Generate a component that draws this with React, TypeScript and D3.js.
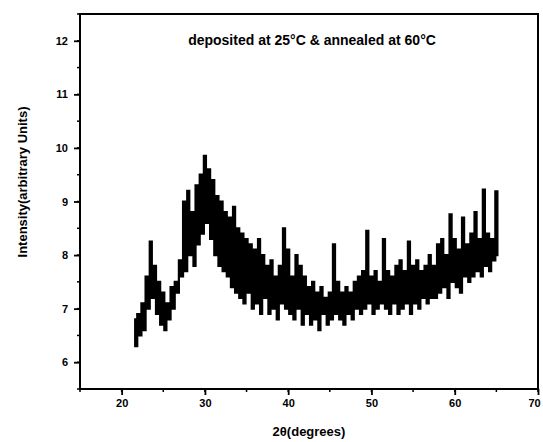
import React, { useRef, useEffect } from 'react';
import * as d3 from 'd3';

// scan start / step (degrees 2theta)
const twoThetaStart = 21.5;
const twoThetaStep = 0.25;

// intensity, one value per step
const intensity = [
  6.8, 6.3, 6.9, 6.5, 7.1, 6.6, 7.6, 7.0, 8.25, 7.2, 7.8, 6.9, 7.5, 6.7, 7.3, 6.6,
  7.1, 6.8, 7.4, 7.0, 7.5, 7.3, 7.9, 7.6, 9.0, 7.7, 9.2, 8.0, 8.8, 7.8, 9.3, 8.2,
  9.5, 8.4, 9.85, 8.6, 9.6, 8.3, 9.4, 8.0, 9.1, 7.8, 9.0, 7.7, 8.8, 7.6, 8.7, 7.4,
  8.9, 7.3, 8.5, 7.2, 8.4, 7.1, 8.3, 7.3, 8.2, 7.0, 8.1, 7.1, 8.3, 6.9, 8.0, 7.2,
  7.8, 6.9, 7.9, 7.0, 7.6, 6.8, 7.8, 7.1, 8.5, 7.0, 8.1, 6.9, 7.6, 6.8, 8.0, 7.0,
  7.8, 6.7, 7.6, 6.9, 7.4, 6.7, 7.5, 6.8, 7.3, 6.6, 7.4, 6.9, 7.2, 6.7, 7.3, 6.8,
  8.2, 6.9, 7.5, 6.8, 7.3, 6.7, 7.4, 6.9, 7.3, 6.8, 7.5, 7.0, 7.6, 6.9, 7.7, 7.0,
  8.45, 7.1, 7.6, 6.9, 7.7, 7.0, 7.5, 7.1, 8.3, 7.0, 7.7, 6.9, 7.6, 7.1, 7.8, 6.9,
  7.9, 7.0, 7.7, 7.1, 8.25, 6.9, 7.8, 7.1, 7.9, 7.0, 7.7, 7.2, 7.8, 7.1, 8.0, 7.2,
  7.8, 7.2, 8.2, 7.3, 8.3, 7.4, 8.0, 7.2, 8.76, 7.5, 8.3, 7.4, 8.1, 7.3, 8.7, 7.6,
  8.2, 7.5, 8.4, 7.6, 8.8, 7.7, 8.3, 7.6, 9.22, 7.8, 8.4, 7.7, 8.3, 7.9, 9.19, 8.0,
];

const xTicks = [20, 30, 40, 50, 60, 70];
const yTicks = [6, 7, 8, 9, 10, 11, 12];

const title = 'deposited at 25\u00B0C & annealed at 60\u00B0C';
const xLabel = '2\u03B8(degrees)';
const yLabel = 'Intensity(arbitrary Units)';

function XrdChart() {
  const svgRef = useRef(null);

  useEffect(() => {
    const width = 543;
    const height = 442;
    const margin = { top: 14, right: 5, bottom: 53, left: 80 };
    const innerWidth = width - margin.left - margin.right;
    const innerHeight = height - margin.top - margin.bottom;

    const svg = d3.select(svgRef.current);
    svg.selectAll('*').remove();
    svg.attr('width', width).attr('height', height);

    const g = svg.append('g')
      .attr('transform', `translate(${margin.left},${margin.top})`);

    const x = d3.scaleLinear().domain([15, 70]).range([0, innerWidth]);
    const y = d3.scaleLinear().domain([5.5, 12.5]).range([innerHeight, 0]);

    const data = intensity.map((v, i) => ({ t: twoThetaStart + i * twoThetaStep, v }));

    // data line, drawn as steps so it reads as a dense black band
    const line = d3.line()
      .x(d => x(d.t))
      .y(d => y(d.v))
      .curve(d3.curveStep);

    g.append('path')
      .datum(data)
      .attr('fill', 'none')
      .attr('stroke', '#000')
      .attr('stroke-width', 2.2)
      .attr('d', line);

    const font = 'Arial, "Liberation Sans", sans-serif';

    // minor ticks
    const xMinor = d3.range(15, 70.01, 5);
    const yMinor = d3.range(5.5, 12.51, 0.5);

    g.append('g')
      .attr('transform', `translate(0,${innerHeight})`)
      .selectAll('line')
      .data(xMinor)
      .enter()
      .append('line')
      .attr('x1', d => x(d))
      .attr('x2', d => x(d))
      .attr('y1', 0)
      .attr('y2', 3)
      .attr('stroke', '#000')
      .attr('stroke-width', 1.5);

    g.append('g')
      .selectAll('line')
      .data(yMinor)
      .enter()
      .append('line')
      .attr('x1', 0)
      .attr('x2', -3)
      .attr('y1', d => y(d))
      .attr('y2', d => y(d))
      .attr('stroke', '#000')
      .attr('stroke-width', 1.5);

    // X axis
    const xAxis = g.append('g')
      .attr('transform', `translate(0,${innerHeight})`)
      .call(d3.axisBottom(x).tickValues(xTicks).tickSize(6).tickPadding(4).tickFormat(d3.format('d')));
    xAxis.select('.domain').remove();
    xAxis.selectAll('line').attr('stroke-width', 1.8);
    xAxis.selectAll('text')
      .style('font-family', font)
      .style('font-size', '11px')
      .style('font-weight', 'bold')
      .attr('fill', '#000')
      .attr('dx', d => (d === 70 ? -4 : 0));

    // Y axis
    const yAxis = g.append('g')
      .call(d3.axisLeft(y).tickValues(yTicks).tickSize(6).tickPadding(6).tickFormat(d3.format('d')));
    yAxis.select('.domain').remove();
    yAxis.selectAll('line').attr('stroke-width', 1.8);
    yAxis.selectAll('text')
      .style('font-family', font)
      .style('font-size', '11px')
      .style('font-weight', 'bold')
      .attr('fill', '#000');

    // frame
    g.append('rect')
      .attr('x', 0)
      .attr('y', 0)
      .attr('width', innerWidth)
      .attr('height', innerHeight)
      .attr('fill', 'none')
      .attr('stroke', '#000')
      .attr('stroke-width', 2);

    // title
    g.append('text')
      .attr('x', innerWidth / 2 + 3)
      .attr('y', 31)
      .attr('text-anchor', 'middle')
      .style('font-family', font)
      .style('font-size', '14px')
      .style('font-weight', 'bold')
      .text(title);

    // axis labels
    svg.append('text')
      .attr('x', margin.left + innerWidth / 2)
      .attr('y', 436)
      .attr('text-anchor', 'middle')
      .style('font-family', font)
      .style('font-size', '13px')
      .style('font-weight', 'bold')
      .text(xLabel);

    svg.append('text')
      .attr('transform', 'translate(27,182) rotate(-90)')
      .attr('text-anchor', 'middle')
      .style('font-family', font)
      .style('font-size', '13px')
      .style('font-weight', 'bold')
      .text(yLabel);
  }, []);

  return <svg ref={svgRef} style={{ display: 'block' }}></svg>;
}

export default function App() {
  return (
    <div style={{ position: 'absolute', left: 0, top: 0, background: '#fff' }}>
      <XrdChart />
    </div>
  );
}
